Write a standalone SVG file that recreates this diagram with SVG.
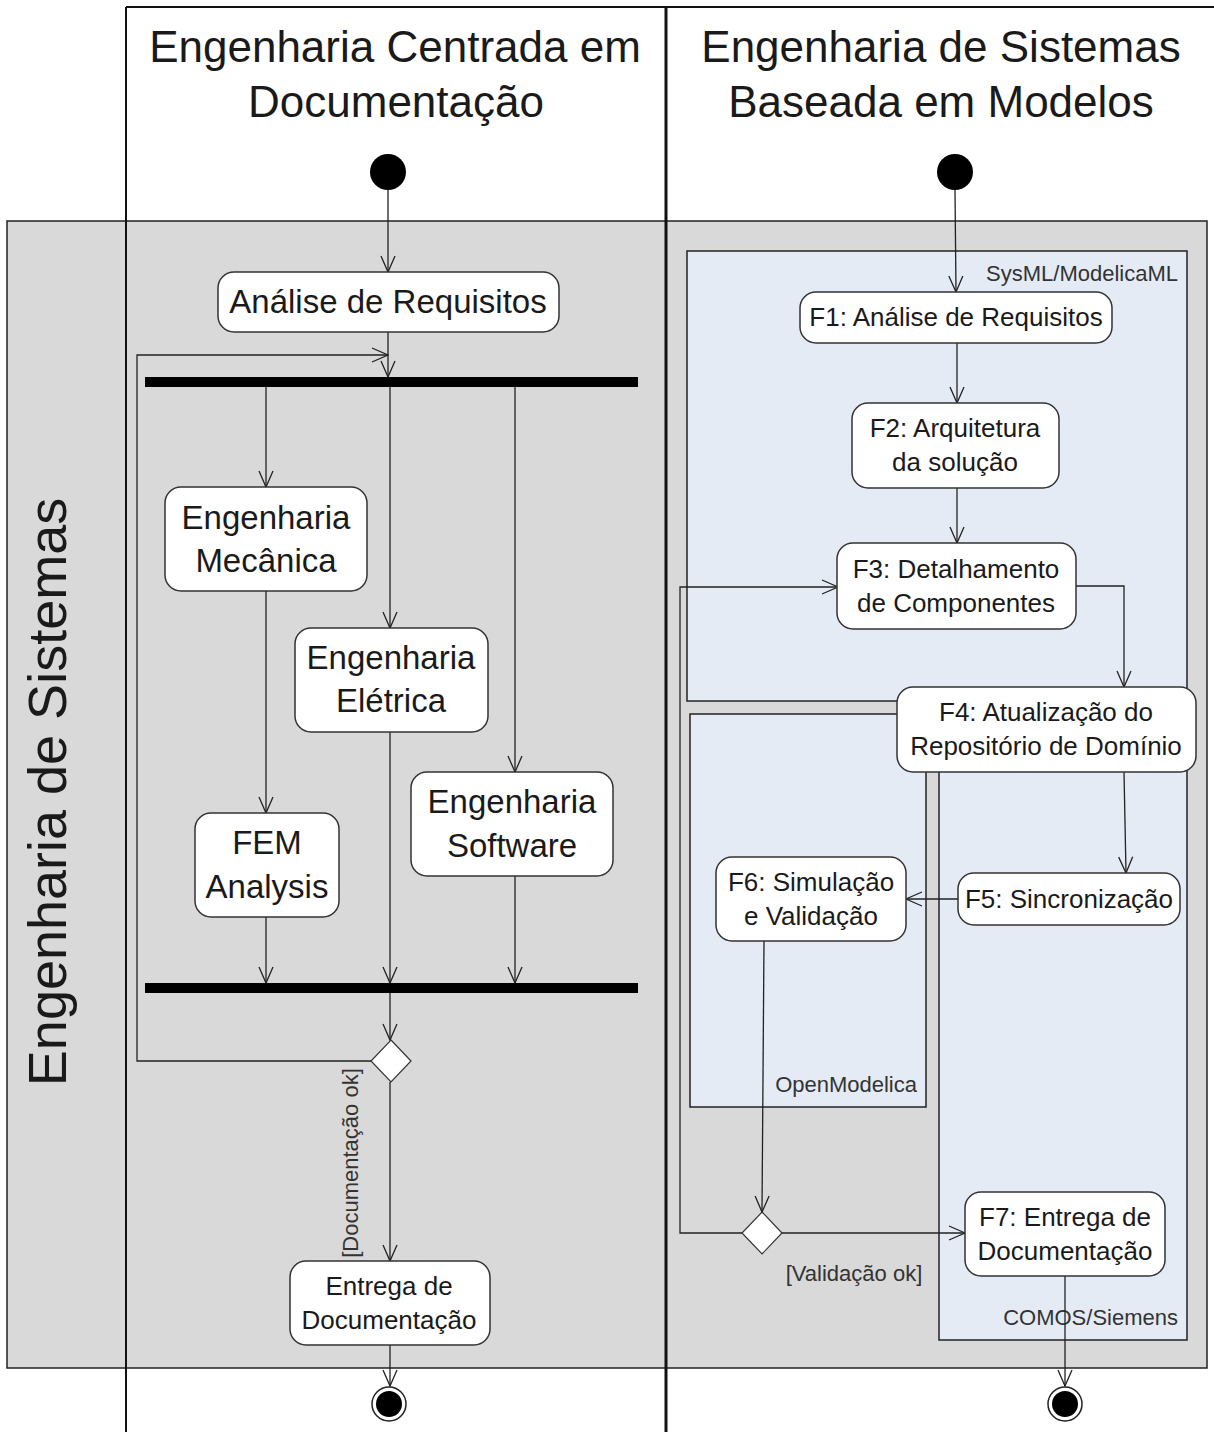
<svg xmlns="http://www.w3.org/2000/svg" width="1214" height="1432" viewBox="0 0 1214 1432">
  <style>
    .lane { stroke: #111; stroke-width: 2; fill: none; }
    .band { fill: #d9d9d9; stroke: #222; stroke-width: 1.5; }
    .region { fill: #e5ebf5; stroke: #222; stroke-width: 1.5; }
    .act { fill: #fff; stroke: #333; stroke-width: 1.5; }
    .bar { fill: #000; }
    .dec { fill: #fff; stroke: #333; stroke-width: 1.2; }
    .flow { fill: none; stroke: #222; stroke-width: 1.3; marker-end: url(#arrow); }
    text { font-family: "Liberation Sans", Arial, sans-serif; fill: #1a1a1a; text-anchor: middle; }
    .title { font-size: 44px; }
    .big { font-size: 33px; }
    .mid { font-size: 26px; }
    .doc { font-size: 26px; }
    .small { font-size: 22px; fill: #333; text-anchor: end; }
    .guard { font-size: 22px; fill: #333; }
  </style>
  <defs>
    <marker id="arrow" markerUnits="userSpaceOnUse" viewBox="0 0 18 16" markerWidth="18" markerHeight="16" refX="17" refY="8" orient="auto">
      <path d="M1,1 L17,8 L1,15" fill="none" stroke="#222" stroke-width="1.3"/>
    </marker>
  </defs>

  <!-- swimlane partition band -->
  <rect class="band" x="7" y="221" width="1200" height="1147"/>
  <text class="title" style="font-size:54px" transform="translate(66,792) rotate(-90)">Engenharia de Sistemas</text>

  <!-- tool regions -->
  <g id="region-sysml">
    <rect class="region" x="687" y="251" width="500" height="450"/>
    <text class="small" x="1178" y="281">SysML/ModelicaML</text>
  </g>
  <g id="region-openmodelica">
    <rect class="region" x="690" y="714" width="236" height="393"/>
    <text class="small" x="917" y="1092">OpenModelica</text>
  </g>
  <g id="region-comos">
    <rect class="region" x="939" y="701" width="248" height="639"/>
    <text class="small" x="1178" y="1325">COMOS/Siemens</text>
  </g>

  <!-- swimlane borders and headers -->
  <g id="lanes">
    <line class="lane" x1="126" y1="7" x2="1214" y2="7"/>
    <line class="lane" x1="126" y1="7" x2="126" y2="1432"/>
    <line class="lane" x1="666" y1="7" x2="666" y2="1432" style="stroke-width:3"/>
    <text class="title" x="395" y="62">Engenharia Centrada em</text>
    <text class="title" x="396" y="117">Documentação</text>
    <text class="title" x="941" y="62">Engenharia de Sistemas</text>
    <text class="title" x="941" y="117">Baseada em Modelos</text>
  </g>

  <!-- connectors -->
  <g id="connectors">
    <line class="flow" x1="388" y1="190" x2="388" y2="272"/>
    <line class="flow" x1="388" y1="332" x2="388" y2="377"/>
    <polyline class="flow" points="371,1061 137,1061 137,355 388,355"/>
    <line class="flow" x1="266" y1="387" x2="266" y2="487"/>
    <line class="flow" x1="390" y1="387" x2="390" y2="628"/>
    <line class="flow" x1="515" y1="387" x2="515" y2="772"/>
    <line class="flow" x1="266" y1="591" x2="266" y2="813"/>
    <line class="flow" x1="266" y1="917" x2="266" y2="983"/>
    <line class="flow" x1="390" y1="732" x2="390" y2="983"/>
    <line class="flow" x1="515" y1="876" x2="515" y2="983"/>
    <line class="flow" x1="390" y1="993" x2="390" y2="1040"/>
    <line class="flow" x1="390" y1="1082" x2="390" y2="1261"/>
    <line class="flow" x1="390" y1="1345" x2="390" y2="1386"/>
    <text class="guard" transform="translate(358,1163) rotate(-90)">[Documentação ok]</text>

    <line class="flow" x1="955" y1="190" x2="956" y2="292"/>
    <line class="flow" x1="957" y1="343" x2="957" y2="403"/>
    <line class="flow" x1="957" y1="488" x2="957" y2="543"/>
    <polyline class="flow" points="1076,586 1124,586 1124,687"/>
    <line class="flow" x1="1124" y1="772" x2="1126" y2="873"/>
    <line class="flow" x1="958" y1="899" x2="906" y2="899"/>
    <line class="flow" x1="764" y1="941" x2="762" y2="1212"/>
    <line class="flow" x1="782" y1="1233" x2="965" y2="1233"/>
    <polyline class="flow" points="742,1233 680,1233 680,587 838,587"/>
    <line class="flow" x1="1065" y1="1276" x2="1065" y2="1386"/>
    <text class="guard" x="854" y="1281">[Validação ok]</text>
  </g>

  <!-- left lane nodes -->
  <g id="start-left"><circle cx="388" cy="172" r="18" fill="#000"/></g>
  <g id="analise">
    <rect class="act" x="218" y="272" width="341" height="60" rx="16"/>
    <text class="big" x="388" y="313">Análise de Requisitos</text>
  </g>
  <g id="fork"><rect class="bar" x="145" y="377" width="493" height="10"/></g>
  <g id="eng-mecanica">
    <rect class="act" x="165" y="487" width="202" height="104" rx="16"/>
    <text class="big" x="266" y="529">Engenharia</text>
    <text class="big" x="266" y="572">Mecânica</text>
  </g>
  <g id="eng-eletrica">
    <rect class="act" x="295" y="628" width="193" height="104" rx="16"/>
    <text class="big" x="391" y="669">Engenharia</text>
    <text class="big" x="391" y="712">Elétrica</text>
  </g>
  <g id="eng-software">
    <rect class="act" x="411" y="772" width="202" height="104" rx="16"/>
    <text class="big" x="512" y="813">Engenharia</text>
    <text class="big" x="512" y="857">Software</text>
  </g>
  <g id="fem">
    <rect class="act" x="195" y="813" width="144" height="104" rx="16"/>
    <text class="big" x="267" y="854">FEM</text>
    <text class="big" x="267" y="898">Analysis</text>
  </g>
  <g id="join"><rect class="bar" x="145" y="983" width="493" height="10"/></g>
  <g id="decision-doc"><polygon class="dec" points="391,1040 411,1061 391,1082 371,1061"/></g>
  <g id="entrega">
    <rect class="act" x="290" y="1261" width="200" height="84" rx="16"/>
    <text class="doc" x="389" y="1295">Entrega de</text>
    <text class="doc" x="389" y="1329">Documentação</text>
  </g>
  <g id="end-left">
    <circle cx="389" cy="1404" r="17" fill="#fff" stroke="#222" stroke-width="1.5"/>
    <circle cx="389" cy="1404" r="13" fill="#000"/>
  </g>

  <!-- right lane nodes -->
  <g id="start-right"><circle cx="955" cy="172" r="18" fill="#000"/></g>
  <g id="f1">
    <rect class="act" x="800" y="292" width="312" height="51" rx="16"/>
    <text class="mid" x="956" y="326">F1: Análise de Requisitos</text>
  </g>
  <g id="f2">
    <rect class="act" x="852" y="403" width="207" height="85" rx="16"/>
    <text class="mid" x="955" y="437">F2: Arquitetura</text>
    <text class="mid" x="955" y="471">da solução</text>
  </g>
  <g id="f3">
    <rect class="act" x="837" y="543" width="239" height="86" rx="16"/>
    <text class="mid" x="956" y="578">F3: Detalhamento</text>
    <text class="mid" x="956" y="612">de Componentes</text>
  </g>
  <g id="f4">
    <rect class="act" x="897" y="687" width="299" height="85" rx="16"/>
    <text class="mid" x="1046" y="721">F4: Atualização do</text>
    <text class="mid" x="1046" y="755">Repositório de Domínio</text>
  </g>
  <g id="f5">
    <rect class="act" x="958" y="873" width="222" height="52" rx="16"/>
    <text class="mid" x="1069" y="908">F5: Sincronização</text>
  </g>
  <g id="f6">
    <rect class="act" x="716" y="857" width="190" height="84" rx="16"/>
    <text class="mid" x="811" y="891">F6: Simulação</text>
    <text class="mid" x="811" y="925">e Validação</text>
  </g>
  <g id="decision-val"><polygon class="dec" points="762,1212 782,1233 762,1254 742,1233"/></g>
  <g id="f7">
    <rect class="act" x="965" y="1192" width="200" height="84" rx="16"/>
    <text class="mid" x="1065" y="1226">F7: Entrega de</text>
    <text class="mid" x="1065" y="1260">Documentação</text>
  </g>
  <g id="end-right">
    <circle cx="1065" cy="1404" r="17" fill="#fff" stroke="#222" stroke-width="1.5"/>
    <circle cx="1065" cy="1404" r="13" fill="#000"/>
  </g>
</svg>
